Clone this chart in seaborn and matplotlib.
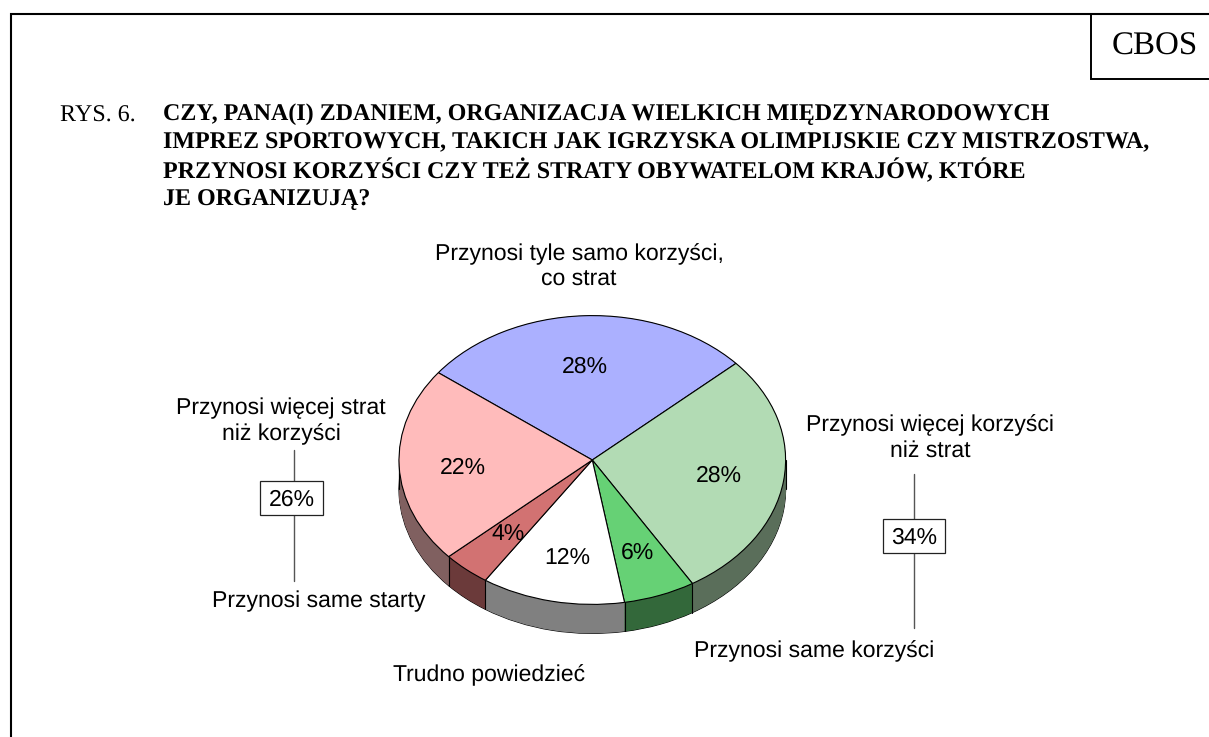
import numpy as np
import matplotlib
matplotlib.use("Agg")
import matplotlib.pyplot as plt
import seaborn as sns

categories = ["Przynosi tyle samo korzyści,\nco strat", "Przynosi więcej korzyści\nniż strat",
              "Przynosi same korzyści", "Trudno powiedzieć", "Przynosi same starty",
              "Przynosi więcej strat\nniż korzyści"]
values = [28, 28, 6, 12, 4, 22]
top_colors = ["#ABB0FF", "#B2DBB4", "#66D175", "#FFFFFF", "#D27272", "#FFBBBB"]
side_colors = ["#555880", "#5A6E5A", "#33683A", "#808080", "#6B3A3A", "#806060"]
sum_labels = ["26%", "34%"]
title_lines = ["CZY, PANA(I) ZDANIEM, ORGANIZACJA WIELKICH MIĘDZYNARODOWYCH",
               "IMPREZ SPORTOWYCH, TAKICH JAK IGRZYSKA OLIMPIJSKIE CZY MISTRZOSTWA,",
               "PRZYNOSI KORZYŚCI CZY TEŻ STRATY OBYWATELOM KRAJÓW, KTÓRE",
               "JE ORGANIZUJĄ?"]

sns.set_theme(style="white")
plt.rcParams["text.hinting"] = "no_hinting"
plt.rcParams["text.hinting_factor"] = 1
W, H = 1209, 737
fig = plt.figure(figsize=(W / 100, H / 100), dpi=100, facecolor="white")
SANS = "Liberation Sans"
SERIF = "Liberation Serif"

# pie axes: a unit circle becomes the ellipse of the tilted pie
cx, cy, rx, ry, depth_px = 592.3, 460.0, 193.3, 144.4, 29.0
ax = fig.add_axes([0, 0, 1, 1], zorder=1)
depth = depth_px / ry
start = 142.8
EDGE = 0.8

def pie_layer(offset, colors, **wedge):
    ax.pie(values, colors=colors, startangle=start, counterclock=False,
           center=(0, -offset), radius=1, wedgeprops=wedge, frame=True)

pie_layer(depth, side_colors, edgecolor="black", linewidth=EDGE)
for off in np.linspace(depth, 0, 40):
    pie_layer(off, side_colors, edgecolor="none", linewidth=0)
# silhouette and wedge boundaries on the visible rim
edges = start - np.cumsum(values) * 3.6
for a in edges:
    if np.sin(np.radians(a)) < 0:
        x = np.cos(np.radians(a))
        y = np.sin(np.radians(a))
        ax.plot([x, x], [y, y - depth], color="black", lw=EDGE, zorder=5)
ax.plot([-1, -1], [0, -depth], color="black", lw=EDGE, zorder=5)
ax.plot([1, 1], [0, -depth], color="black", lw=EDGE, zorder=5)
pie_layer(0, top_colors, edgecolor="black", linewidth=EDGE)
for w in ax.patches[-len(values):]:
    w.set_zorder(6)
ax.set_aspect("auto")
ax.set_xlim((0 - cx) / rx, (W - cx) / rx)
ax.set_ylim((cy - H) / ry, cy / ry)
ax.set_position([0, 0, 1, 1])
ax.axis("off")

# overlay in pixel coordinates for frame and annotations
ov = fig.add_axes([0, 0, 1, 1], zorder=2)
ov.set_xlim(0, W)
ov.set_ylim(H, 0)
ov.axis("off")
ov.patch.set_alpha(0)

ov.plot([11, 11, W], [H, 14, 14], color="black", lw=1.5, solid_joinstyle="miter")
ov.plot([W, 1090.5, 1090.5], [79, 79, 14], color="black", lw=1.4, solid_joinstyle="miter")
ov.text(1154.5, 47, "CBOS", family=SERIF, fontsize=23.5, ha="center", va="center", color="black")

ov.text(60, 116, "RYS. 6.", family=SERIF, fontsize=17, ha="left", va="center", color="black")
for y, line in zip([114, 143, 171, 199], title_lines):
    ov.text(163, y, line, family=SERIF, fontsize=17.2, fontweight="bold", ha="left", va="center", color="black")

pct_fs = 16.6
for (x, y), v in zip([(585, 367), (719, 476), (637, 553), (567, 558), (508, 535), (463, 468)], values):
    ov.text(x, y, f"{v}%", family=SANS, fontsize=pct_fs, ha="center", va="center", color="black", zorder=8)

cat_fs = 16.85
for (x, y), c in zip([(579, 267), (930, 438), (814, 651), (489, 675), (319, 601), (281, 421)], categories):
    ov.text(x, y, c, family=SANS, fontsize=cat_fs, ha="center", va="center", color="black", linespacing=1.24)

for x, y0, y1, box, lab in [(294, 450, 581, (260, 481, 323, 515), sum_labels[0]),
                            (914, 474, 628, (883, 519, 945, 553), sum_labels[1])]:
    ov.plot([x, x], [y0, y1], color="#555555", lw=1.0)
    l, t, r, b = box
    ov.fill([l, r, r, l], [t, t, b, b], facecolor="white", edgecolor="#222222", lw=0.9, zorder=3)
    ov.text((l + r) / 2, (t + b) / 2 + 2, lab, family=SANS, fontsize=pct_fs, ha="center", va="center", color="black", zorder=4)

fig.savefig("out.png", dpi=100)
